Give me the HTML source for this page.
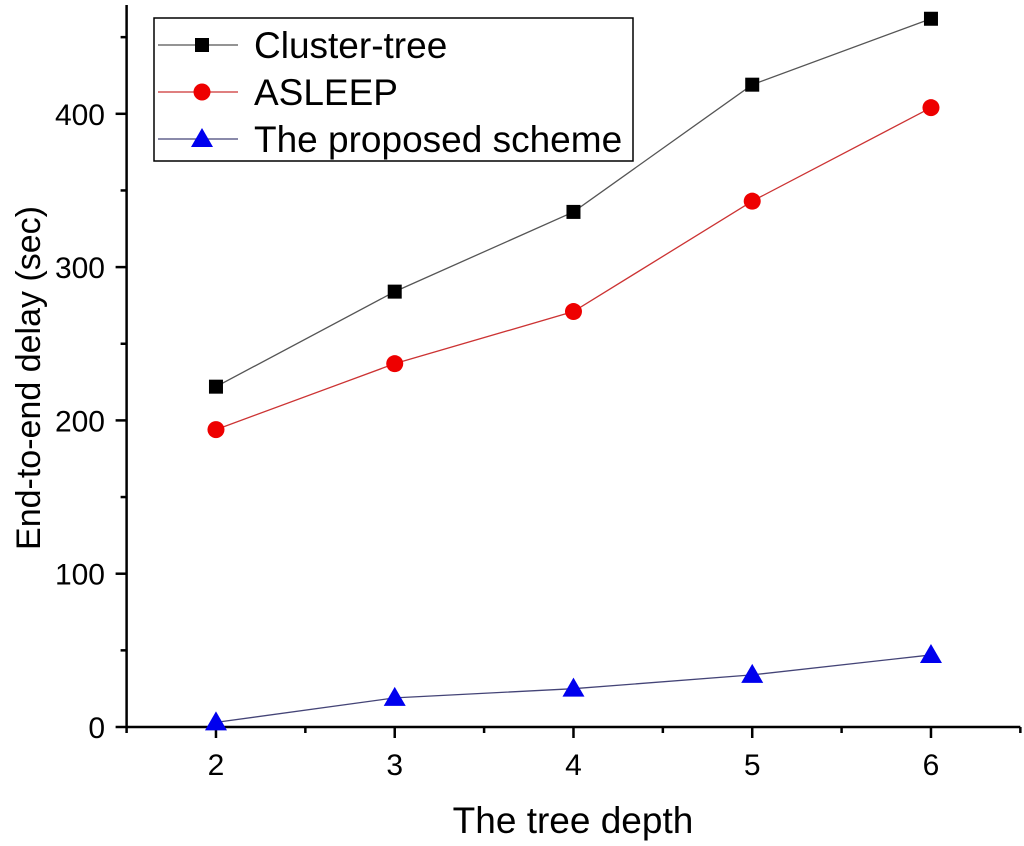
<!DOCTYPE html>
<html><head><meta charset="utf-8"><style>
body{margin:0;background:#fff;}
svg{display:block;font-family:"Liberation Sans",Arial,sans-serif;}
</style></head><body>
<svg id="chart" width="1024" height="846"></svg>
<script>
const categories=[2,3,4,5,6];
const clusterTree=[222,284,336,419,462];
const asleep=[194,237,271,343,404];
const proposed=[3,19,25,34,47];
const yTicks=[0,100,200,300,400];
const NS="http://www.w3.org/2000/svg";
const svg=document.getElementById('chart');
const x=v=>126.6+(v-1.5)*178.75;
const y=v=>727-v*1.533;
function mk(t,a,p){const e=document.createElementNS(NS,t);for(const k in a)e.setAttribute(k,a[k]);(p||svg).appendChild(e);return e;}
const axes=mk('g',{});


mk('line',{x1:x(1.5),y1:727,x2:x(6.5),y2:727,stroke:'#000','stroke-width':2.5},axes);
mk('line',{x1:126.6,y1:727,x2:126.6,y2:y(471),stroke:'#000','stroke-width':2.5},axes);
for(let v=1.5;v<=6.51;v+=0.5){const maj=Number.isInteger(v);mk('line',{x1:x(v),y1:727,x2:x(v),y2:727+(maj?11:6),stroke:'#000','stroke-width':2.5},axes);}
categories.forEach(c=>{const t=mk('text',{x:x(c),y:775,'text-anchor':'middle','font-size':30},axes);t.textContent=c;});
for(let v=0;v<=450;v+=50){const maj=v%100===0;mk('line',{x1:126.6,y1:y(v),x2:126.6-(maj?11:6),y2:y(v),stroke:'#000','stroke-width':2.5},axes);}
yTicks.forEach(v=>{const t=mk('text',{x:105,y:y(v)+11,'text-anchor':'end','font-size':30},axes);t.textContent=v;});
const xt=mk('text',{x:573,y:833,'text-anchor':'middle','font-size':37});xt.textContent='The tree depth';

const yt=mk('text',{x:0,y:0,'text-anchor':'middle','font-size':34,transform:'translate(40,378) rotate(-90)'});yt.textContent='End-to-end delay (sec)';

function marker(g,type,cx,cy,col){
 if(type==='sq')return mk('rect',{x:cx-7,y:cy-7,width:14,height:14,fill:col},g);
 if(type==='ci')return mk('circle',{cx:cx,cy:cy,r:8.5,fill:col},g);
 return mk('polygon',{points:`${cx},${cy-11} ${cx-11},${cy+8} ${cx+11},${cy+8}`,fill:col},g);
}
const series=[[clusterTree,'#000','#555','sq','cluster-tree'],[asleep,'#e00','#c33','ci','asleep'],[proposed,'#00e','#447','tr','proposed-scheme']];
series.forEach(([vals,col,lc,type,name])=>{
 const g=mk('g',{});
 
 
 mk('polyline',{points:vals.map((v,i)=>x(categories[i])+','+y(v)).join(' '),fill:'none',stroke:lc,'stroke-width':1.3},g);
 vals.forEach((v,i)=>{const m=marker(g,type,x(categories[i]),y(v),col);});
});
const lg=mk('g',{});


mk('rect',{x:154,y:18,width:479,height:143,fill:'#fff',stroke:'#000','stroke-width':1.5},lg);
const labels=['Cluster-tree','ASLEEP','The proposed scheme'];
series.forEach(([vals,col,lc,type,name],i)=>{
 const cy=45+i*47;
 const e=mk('g',{},lg);
 
 
 mk('line',{x1:158,y1:cy,x2:238,y2:cy,stroke:lc,'stroke-width':1.3},e);
 marker(e,type,202,cy,col);
 const t=mk('text',{x:254,y:cy+13,'font-size':37},e);t.textContent=labels[i];
});
</script>
</body></html>
